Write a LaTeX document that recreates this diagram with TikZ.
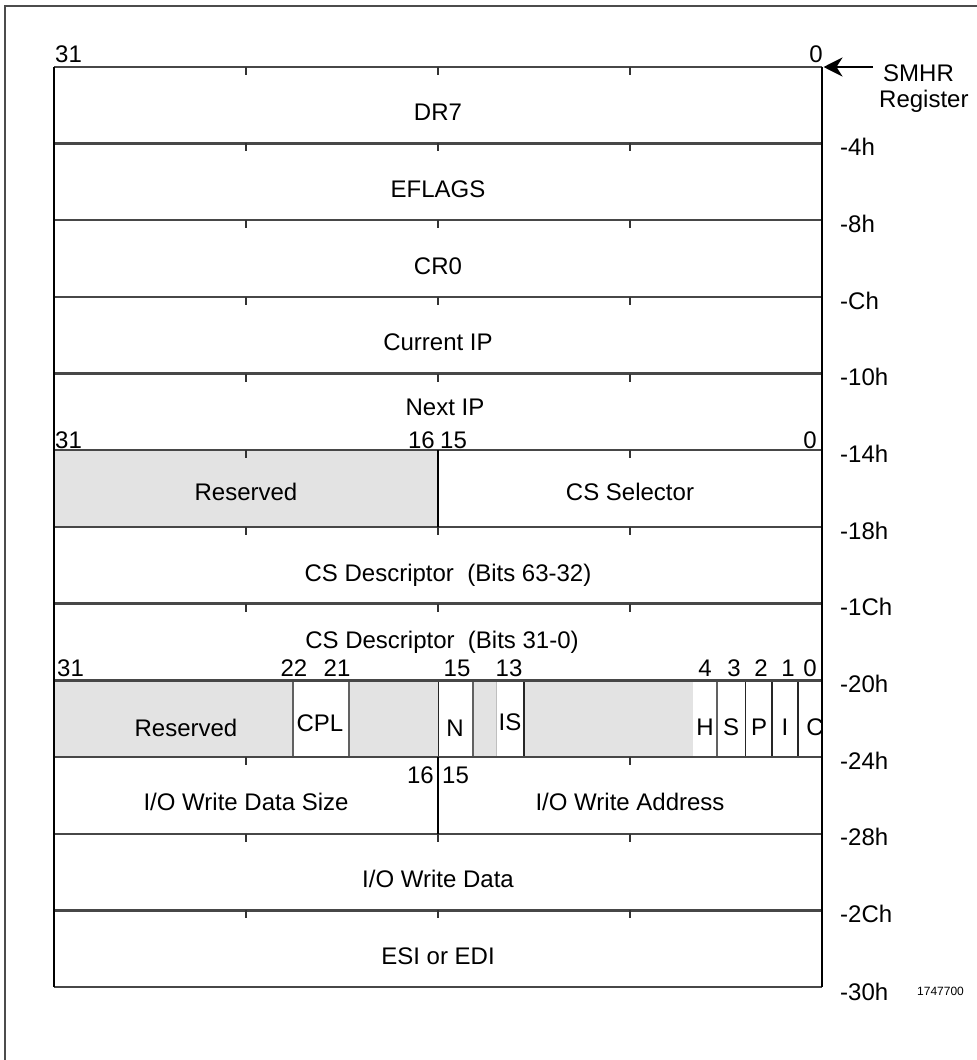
\documentclass[tikz,border=0pt]{standalone}
\usepackage{fontspec}
\setmainfont{Liberation Sans}
\usetikzlibrary{arrows.meta}
\begin{document}
\begin{tikzpicture}[x=1pt,y=-1pt,
  lbl/.style={inner sep=0pt, anchor=base, font=\fontsize{24}{28}\selectfont},
  lbll/.style={lbl, anchor=base west},
  lblr/.style={lbl, anchor=base east},
  small/.style={inner sep=0pt, anchor=base west, font=\fontsize{12}{14}\selectfont},
  rowline/.style={line width=2.4pt, draw=black!72},
  edgeline/.style={line width=2.6pt, draw=black},
  tickline/.style={line width=2pt, draw=black!80},
  divider/.style={line width=2pt, draw=black},
  resfill/.style={fill=black!11},
  bitdark/.style={line width=1.7pt, draw=black!85},
  bitgrey/.style={line width=1.7pt, draw=black!62},
  bitlight/.style={line width=1.2pt, draw=black!25},
  frameline/.style={line width=2pt, draw=black!70},
]
\useasboundingbox (0,0) rectangle (977,1060);
% outer frame (top and left)
\draw[frameline] (5,1060) -- (5,6) -- (977,6);

% row tops
\def\ya{66.7}\def\yb{143.4}\def\yc{220.1}\def\yd{296.8}\def\ye{373.5}\def\yf{450.2}
\def\yg{526.9}\def\yh{603.6}\def\yi{680.3}\def\yj{757.0}\def\yk{833.7}\def\yl{910.4}\def\ym{987.1}

% grey fills
\fill[resfill] (54,\yf) rectangle (438,\yg);
\fill[resfill] (54,\yi) rectangle (822,\yj);
\fill[white] (293.3,\yi) rectangle (349.3,\yj);
\fill[white] (438.5,\yi) rectangle (472.7,\yj);
\fill[white] (496.7,\yi) rectangle (523.9,\yj);
\fill[white] (693.2,\yi) rectangle (822,\yj);

% bit row separators
\draw[bitgrey] (293.3,\yi) -- (293.3,\yj);
\draw[bitgrey] (349.3,\yi) -- (349.3,\yj);
\draw[bitdark] (438.5,\yi) -- (438.5,\yj);
\draw[bitgrey] (472.7,\yi) -- (472.7,\yj);
\draw[bitlight] (496.7,\yi) -- (496.7,\yj);
\draw[bitdark] (523.9,\yi) -- (523.9,\yj);
\draw[bitgrey] (717,\yi) -- (717,\yj);
\draw[bitdark] (745.5,\yi) -- (745.5,\yj);
\draw[bitdark] (772,\yi) -- (772,\yj);
\draw[bitdark] (798,\yi) -- (798,\yj);

% horizontal row lines
\foreach \y in {\ya,\yb,\yc,\yd,\ye,\yf,\yg,\yh,\yi,\yj,\yk,\yl,\ym}
  \draw[rowline] (54,\y) -- (822,\y);

% ticks
\foreach \y in {\ya,\yb,\yc,\yd,\ye,\yg,\yh,\yk,\yl}
  \foreach \x in {246,438,630}
    \draw[tickline] (\x,\y) -- (\x,\y+8);
\foreach \y in {\yf,\yj}
  \foreach \x in {246,630}
    \draw[tickline] (\x,\y) -- (\x,\y+8);

% dividers
\draw[divider] (438,\yf) -- (438,\yg);
\draw[divider] (438,\yj) -- (438,\yk);

% outer box edges
\draw[edgeline] (54,\ya) -- (54,\ym);
\draw[edgeline] (822,\ya) -- (822,\ym);

% top bit labels
\node[lbll] (t31) at (55,62) {31};
\node[lbl] (t0) at (816,62) {0};

% SMHR arrow
\coordinate (corner) at (823.5,67);
\node[lbll] (smhr) at (883,81) {SMHR};
\node[lbll] (register) at (879,107) {Register};
\coordinate (arrtail) at (873,67);
\draw[-{Stealth[length=19pt,width=19pt,inset=6pt]}, line width=2pt] (arrtail) -- (corner);

% row texts
\node[lbl] (dr7) at (438,120) {DR7};
\node[lbl] (eflags) at (438,197) {EFLAGS};
\node[lbl] (cr0) at (438,274) {CR0};
\node[lbl] (curip) at (438,350) {Current IP};
\node[lbl] (nextip) at (445,415) {Next IP};
\node[lbll] (n31a) at (55,448) {31};
\node[lblr] (n16a) at (435,448) {16};
\node[lbll] (n15a) at (440,448) {15};
\node[lblr] (n0a) at (817,448) {0};
\node[lbl] (res1) at (246,500) {Reserved};
\node[lbl] (cssel) at (630,500) {CS Selector};
\node[lbl] (csd1) at (448,581) {CS Descriptor\ \ (Bits 63-32)};
\node[lbl] (csd2) at (442,648) {CS Descriptor\ \ (Bits 31-0)};

% bit row labels
\node[lbll] (b31) at (57,676) {31};
\node[lbl] (b22) at (294,676) {22};
\node[lbl] (b21) at (337,676) {21};
\node[lbl] (b15) at (457,676) {15};
\node[lbl] (b13) at (509,676) {13};
\node[lbl] (b4) at (705,676) {4};
\node[lbl] (b3) at (734,676) {3};
\node[lbl] (b2) at (761,676) {2};
\node[lbl] (b1) at (788,676) {1};
\node[lbl] (b0) at (810,676) {0};

% bit row field names
\node[lbl] (res2) at (186,736) {Reserved};
\node[lbl] (cpl) at (320,731) {CPL};
\node[lbl] (fn) at (455,736) {N};
\node[lbl] (fis) at (510,730) {IS};
\node[lbl] (fh) at (705,735) {H};
\node[lbl] (fs) at (731,735) {S};
\node[lbl] (fp) at (759,735) {P};
\node[lbl] (fi) at (785,735) {I};
\begin{scope}
  \clip (798,\yi) rectangle (820,\yj);
  \node[lbl] (fc) at (815,735) {C};
\end{scope}

% I/O rows
\node[lblr] (n16b) at (434,783) {16};
\node[lbll] (n15b) at (442,783) {15};
\node[lbl] (iosize) at (246,810) {I/O Write Data Size};
\node[lbl] (ioaddr) at (630,810) {I/O Write Address};
\node[lbl] (iodata) at (438,887) {I/O Write Data};
\node[lbl] (esi) at (438,964) {ESI or EDI};

% offsets
\node[lbll] (o4) at (840,155) {-4h};
\node[lbll] (o8) at (840,232) {-8h};
\node[lbll] (oC) at (840,309) {-Ch};
\node[lbll] (o10) at (840,385) {-10h};
\node[lbll] (o14) at (840,462) {-14h};
\node[lbll] (o18) at (840,539) {-18h};
\node[lbll] (o1C) at (840,615) {-1Ch};
\node[lbll] (o20) at (840,692) {-20h};
\node[lbll] (o24) at (840,769) {-24h};
\node[lbll] (o28) at (840,845) {-28h};
\node[lbll] (o2C) at (840,922) {-2Ch};
\node[lbll] (o30) at (840,1000) {-30h};
\node[small] (fig) at (917,995) {1747700};
\end{tikzpicture}
\end{document}
